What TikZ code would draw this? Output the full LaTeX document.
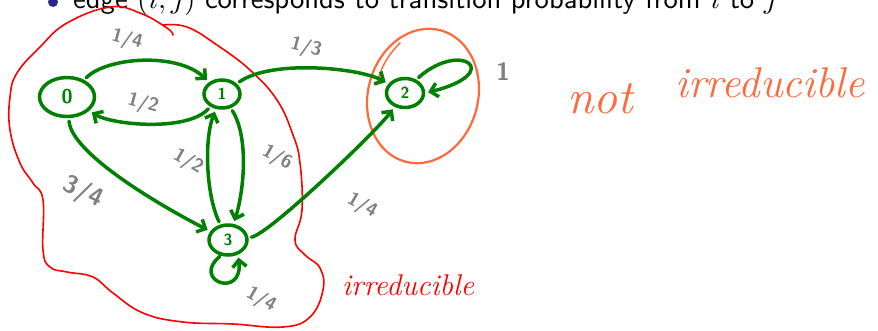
\documentclass[tikz,border=0pt]{standalone}
\usetikzlibrary{arrows.meta,shapes.geometric}
\definecolor{gr}{RGB}{0,128,0}
\definecolor{lbl}{RGB}{128,128,128}
\definecolor{org}{RGB}{255,105,60}
\definecolor{rd}{RGB}{255,0,0}
\definecolor{bul}{RGB}{40,40,140}
\tikzset{
 st/.style={draw=gr, line width=3.5pt, ellipse, inner sep=0pt, text=gr, font=\sffamily\bfseries\fontsize{16}{16}\selectfont},
 edge/.style={draw=gr, line width=3.5pt, line cap=round, -{Straight Barb[length=7pt,width=14pt]}, shorten <=3pt, shorten >=3pt},
 lab/.style={text=lbl, font=\sffamily\bfseries\fontsize{19}{19}\selectfont, inner sep=0pt},
 hand/.style={font=\itshape, anchor=base west, inner sep=0pt},
}
\begin{document}
\begin{tikzpicture}[x=1pt,y=-1pt]
\useasboundingbox (0,0) rectangle (878,330);
\clip (0,0) rectangle (878,330);
% top line
\fill[bul] (53,2) circle (5);
\node[anchor=base west, inner sep=0pt] (top) at (73,8) {\resizebox{704pt}{!}{\sffamily edge $(i,j)$ corresponds to transition probability from $i$ to $j$}};
% red blob
\draw[rd, line width=1.6pt, line cap=round] plot[smooth, tension=0.7] coordinates {(163,25) (187,27) (217,45) (250,70) (277,100) (293,135) (300,163) (302,210) (295,240) (305,255) (320,268) (323,290) (310,317) (283,327) (233,324) (183,322) (143,313) (113,293) (93,277) (67,272) (50,267) (43,250) (43,200) (33,183) (20,163) (10,130) (10,97) (17,73) (40,47) (67,23) (110,7) (140,13) (167,28) (173,35)};
% orange ellipse
\draw[org, line width=2.2pt, rotate around={-15:(423,96)}] (423,96) ellipse [x radius=55, y radius=68];
\draw[org, line width=1.5pt, line cap=round] (400,43) .. controls (388,55) and (380,68) .. (377,85);
% states
\node[st, minimum width=55pt, minimum height=39pt, font=\sffamily\bfseries\fontsize{20}{20}\selectfont] (n0) at (67,97) {0};
\node[st, minimum width=36pt, minimum height=28pt] (n1) at (222,94) {1};
\node[st, minimum width=37pt, minimum height=29pt] (n2) at (405,93) {2};
\node[st, minimum width=38pt, minimum height=30pt] (n3) at (228,240) {3};
% edges
\draw[edge] (n0) .. controls +(40,-40) and +(-45,-42) .. (n1);
\draw[edge] (n1) .. controls +(-35,38) and +(45,28) .. (n0);
\draw[edge] (n1) .. controls +(50,-35) and +(-45,-25) .. (n2);
\draw[edge] (n2.50) .. controls +(45,-40) and +(80,-20) .. (n2.east);
\draw[edge] (n0) .. controls +(5,60) and +(-50,-25) .. (n3);
\draw[edge] (n3) .. controls +(-22,-45) and +(-18,45) .. (n1);
\draw[edge] (n1) .. controls +(28,45) and +(15,-45) .. (n3);
\draw[edge] (n3) .. controls +(40,-5) and +(-30,40) .. (n2);
\draw[edge, shorten <=1pt] (n3.245) .. controls +(-30,25) and +(5,45) .. (n3.305);
% labels
\node[lab, rotate=-15] (l01) at (127,40) {1/4};
\node[lab, rotate=-15] (l10) at (143,104) {1/2};
\node[lab, rotate=-15] (l12) at (306,48) {1/3};
\node[lab, font=\sffamily\bfseries\fontsize{25}{25}\selectfont] (l22) at (503,72) {1};
\node[lab, rotate=-30] (l31) at (188,162) {1/2};
\node[lab, rotate=-30] (l13) at (277,158) {1/6};
\node[lab, rotate=-25, font=\sffamily\bfseries\fontsize{25}{25}\selectfont] (l03) at (83,193) {3/4};
\node[lab, rotate=-30] (l32) at (362,206) {1/4};
\node[lab, rotate=-30] (l33) at (261,300) {1/4};
% handwritten remarks
\node[hand, text=org, font=\itshape\fontsize{48}{48}\selectfont] (nt) at (567,113) {not};
\node[hand, text=org, font=\itshape\fontsize{43}{43}\selectfont] (irr) at (675,97) {irreducible};
\node[hand, text=rd, font=\itshape\fontsize{30}{30}\selectfont] (irr2) at (342,295) {irreducible};
\end{tikzpicture}
\end{document}
